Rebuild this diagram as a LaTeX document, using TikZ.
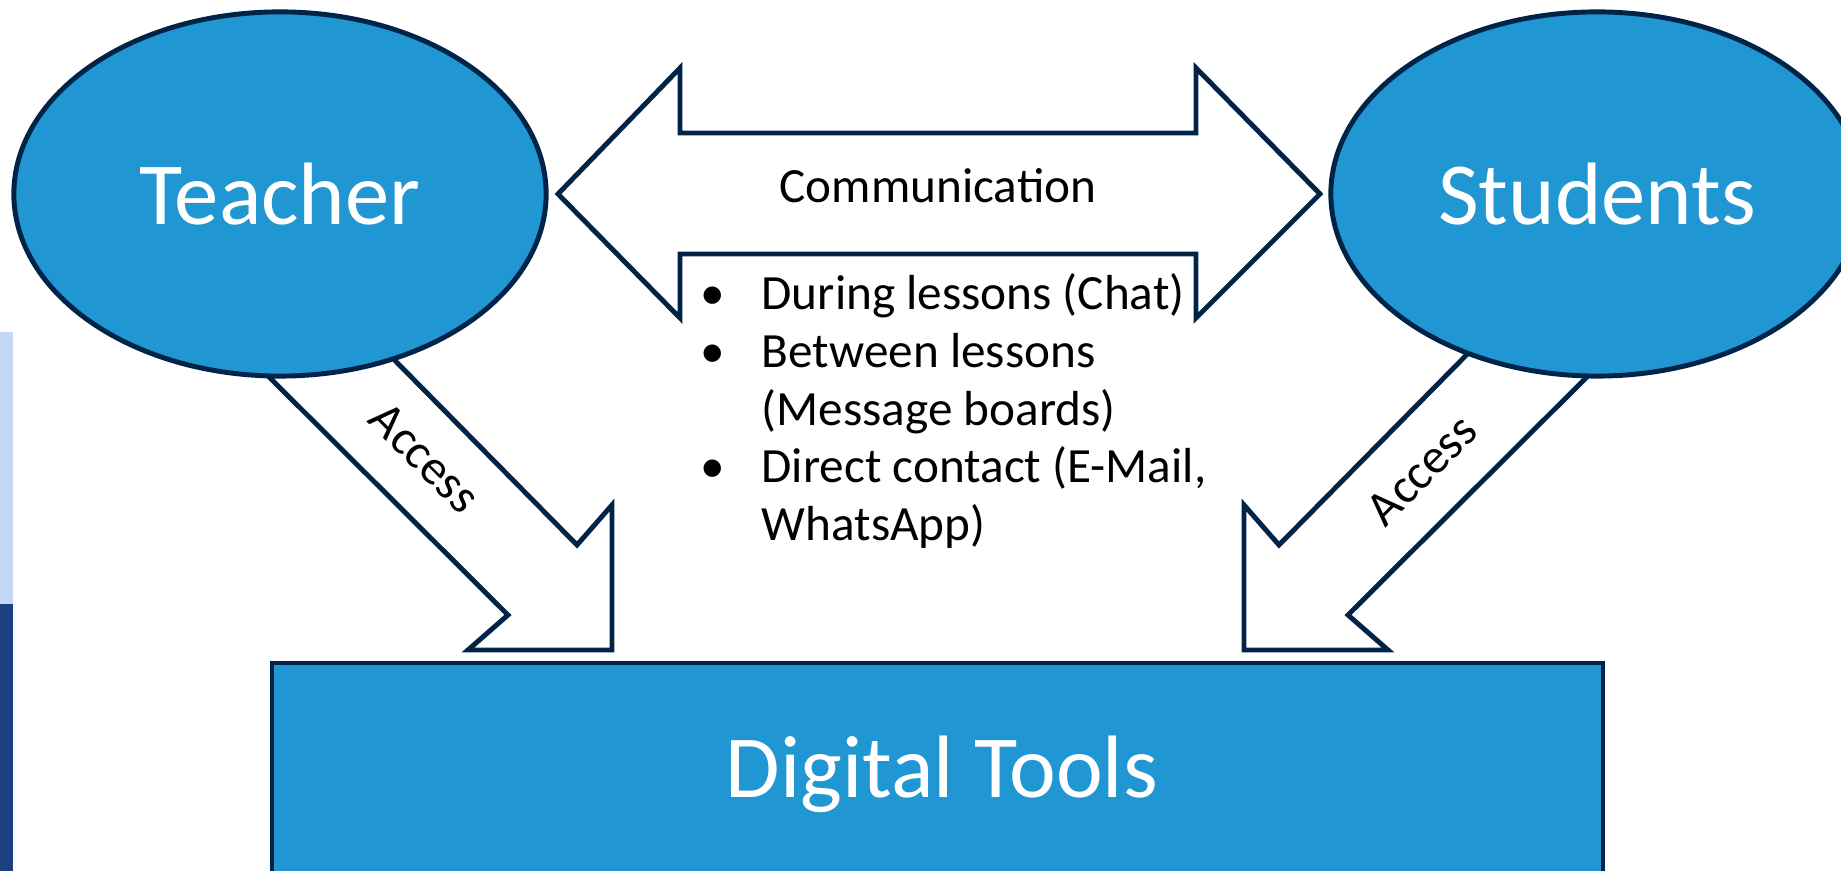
\documentclass[tikz,border=0pt]{standalone}
\usepackage{fontspec}
\setmainfont{Carlito}
\usetikzlibrary{shapes.geometric}

\definecolor{navy}{RGB}{0,36,72}
\definecolor{ellblue}{RGB}{32,150,210}
\definecolor{stripLight}{RGB}{196,215,245}
\definecolor{stripDark}{RGB}{27,65,128}

\tikzset{
  person/.style={ellipse, draw=navy, fill=ellblue, line width=1.4pt,
    minimum width=5.32cm, minimum height=3.64cm, inner sep=0pt,
    text=white, font=\fontsize{25.2}{30}\selectfont},
  blockarrow/.style={draw=navy, fill=white, line width=1.4pt, line join=miter},
  arrowtext/.style={font=\fontsize{14}{17}\selectfont, inner sep=0pt}
}

\begin{document}
\begin{tikzpicture}[x=0.01cm, y=-0.01cm]
\useasboundingbox (0,0) rectangle (1841,871);
\clip (0,0) rectangle (1841,871);

% Side strip on the left edge
\fill[stripLight] (0,332) rectangle (13,604);
\fill[stripDark] (0,604) rectangle (13,871);

% Access arrows (tails hidden under the ellipses)
\draw[blockarrow] (242,350) -- (508,615) -- (468,650) -- (612,650) -- (612,505) -- (577,545) -- (357,322) -- cycle;
\draw[blockarrow] (1614,350) -- (1348,615) -- (1388,650) -- (1244,650) -- (1244,505) -- (1279,545) -- (1499,322) -- cycle;
\node[arrowtext, rotate=-45] (accessT) at (425,458) {Access};
\node[arrowtext, rotate=45] (accessS) at (1422,470) {Access};

% Communication double arrow
\draw[blockarrow] (558,194) -- (680,68) -- (680,133) -- (1196,133) -- (1196,68) -- (1320,194)
  -- (1196,318) -- (1196,254) -- (680,254) -- (680,318) -- cycle;
\node[arrowtext, anchor=base] (comm) at (938,203) {Communication};

% Teacher and Students
\node[person] (teacher) at (280,194) {Teacher};
\node[person] (students) at (1597,194) {Students};

% Digital tools box
\draw[navy, fill=ellblue, line width=1.4pt] (272,663) rectangle (1603,900);
\node[anchor=base, inner sep=0pt, text=white, font=\fontsize{25.2}{30}\selectfont] (tools) at (942,798) {Digital Tools};

% Bullet list under the arrow
\node[anchor=base west, inner sep=0pt, font=\fontsize{14}{16.4}\selectfont] (list) at (700,310) {%
  \begin{tabular}[t]{@{}p{0.61cm}@{}l@{}}
    \textbullet & During lessons (Chat)\\
    \textbullet & Between lessons\\
                & (Message boards)\\
    \textbullet & Direct contact (E-Mail,\\
                & WhatsApp)
  \end{tabular}};

\end{tikzpicture}
\end{document}
